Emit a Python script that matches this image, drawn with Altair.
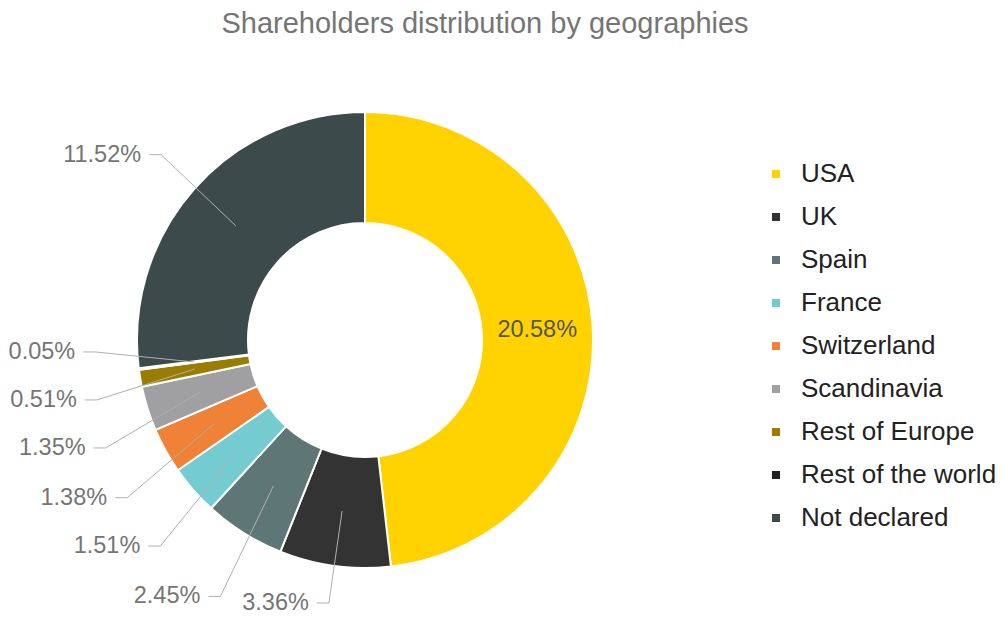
import altair as alt
import pandas as pd

countries = ["USA", "UK", "Spain", "France", "Switzerland", "Scandinavia",
             "Rest of Europe", "Rest of the world", "Not declared"]
shares = [20.58, 3.36, 2.45, 1.51, 1.38, 1.35, 0.51, 0.05, 11.52]
colors = ["#FFD200", "#333333", "#5E7776", "#75CCD0", "#F08238", "#A0A0A3",
          "#9A7D00", "#222222", "#3C4A4B"]

df = pd.DataFrame({"country": countries, "share": shares,
                   "order": list(range(len(countries)))})

FONT = "Liberation Sans, Arial, sans-serif"
W, H = 988, 559
CX, CY = 357, 282
R_IN, R_OUT = 117, 228
R_MID = (R_IN + R_OUT) / 2
R_LBL = 280      # vertical reach of outside labels
R_X = 272        # horizontal reach of outside labels
GAP = 48         # min vertical distance between overlapping labels
W_TXT = 72       # approx. label width used for overlap test
Y_MAX = H - 14   # keep labels inside the drawing

base = alt.Chart(df).transform_window(
    cum="sum(share)", sort=[alt.SortField("order")], frame=[None, 0]
).transform_joinaggregate(total="sum(share)").transform_calculate(
    a0="(datum.cum - datum.share) / datum.total * 2 * PI",
    a1="datum.cum / datum.total * 2 * PI",
).transform_calculate(
    mid="(datum.a0 + datum.a1) / 2",
    label="format(datum.share, '.2f') + '%'",
)

arcs = alt.Chart(df).mark_arc(
    innerRadius=R_IN, outerRadius=R_OUT, stroke="white", strokeWidth=2
).encode(
    theta=alt.Theta("share:Q", stack=True),
    order=alt.Order("order:Q"),
    color=alt.Color(
        "country:N",
        scale=alt.Scale(domain=countries, range=colors),
        legend=alt.Legend(
            title=None, orient="none", legendX=755, legendY=103,
            symbolType="square", symbolSize=64, symbolStrokeWidth=0,
            labelFontSize=26, labelColor="#222222", labelFont=FONT,
            rowPadding=17, labelOffset=12, labelLimit=400,
        ),
    ),
    x=alt.value(CX),
    y=alt.value(CY),
)

inside = base.transform_filter("datum.mid < PI").transform_calculate(
    lx=f"{CX} + {R_MID} * sin(datum.mid)",
    ly=f"{CY} - {R_MID} * cos(datum.mid)",
).mark_text(
    fontSize=23.5, color="#555555", align="center", baseline="middle", font=FONT
).encode(
    x=alt.X("lx:Q", scale=None, axis=None),
    y=alt.Y("ly:Q", scale=None, axis=None),
    text="label:N",
)

asc = [alt.SortField("ynat", order="ascending")]
outside = base.transform_filter("datum.mid >= PI").transform_calculate(
    ynat=f"{CY} - {R_LBL} * cos(datum.mid)",
    ex=f"{CX} + {R_X} * sin(datum.mid)",
    sx=f"{CX} + {R_MID} * sin(datum.mid)",
    sy=f"{CY} - {R_MID} * cos(datum.mid)",
).transform_window(
    prev_ex="lag(ex)", sort=asc
).transform_calculate(
    g=f"isValid(datum.prev_ex) ? (abs(datum.ex - datum.prev_ex) < {W_TXT} ? {GAP} : -1000) : 0"
).transform_window(
    G="sum(g)", sort=asc, frame=[None, 0]
).transform_calculate(
    w="datum.ynat - datum.G"
).transform_window(
    wmax="max(w)", sort=asc, frame=[None, 0]
).transform_window(
    wmin="min(w)", sort=asc, frame=[0, None]
).transform_calculate(
    ey=f"min({Y_MAX}, (datum.wmax + datum.wmin) / 2 + datum.G)"
).transform_calculate(
    hx="datum.ex - 12",
    tx="datum.ex - 20",
)

leader1 = outside.mark_rule(color="#B0B0B0", strokeWidth=1).encode(
    x=alt.X("sx:Q", scale=None, axis=None),
    y=alt.Y("sy:Q", scale=None, axis=None),
    x2="ex:Q",
    y2="ey:Q",
)
leader2 = outside.mark_rule(color="#B0B0B0", strokeWidth=1).encode(
    x=alt.X("ex:Q", scale=None, axis=None),
    y=alt.Y("ey:Q", scale=None, axis=None),
    x2="hx:Q",
    y2="ey:Q",
)
out_text = outside.mark_text(
    fontSize=23.5, color="#757575", align="right", baseline="middle", font=FONT
).encode(
    x=alt.X("tx:Q", scale=None, axis=None),
    y=alt.Y("ey:Q", scale=None, axis=None),
    text="label:N",
)

chart = alt.layer(arcs, leader1, leader2, out_text, inside).properties(
    width=W, height=H,
    autosize="none",
    padding={"top": 50, "left": 0, "right": 0, "bottom": 0},
    title=alt.TitleParams(
        "Shareholders distribution by geographies",
        fontSize=29, color="#757575", font=FONT, fontWeight="normal",
        anchor="middle", dx=-17, offset=19,
    ),
).configure_view(stroke=None)

chart.save("out.html", embed_options={"renderer": "svg", "actions": False})
